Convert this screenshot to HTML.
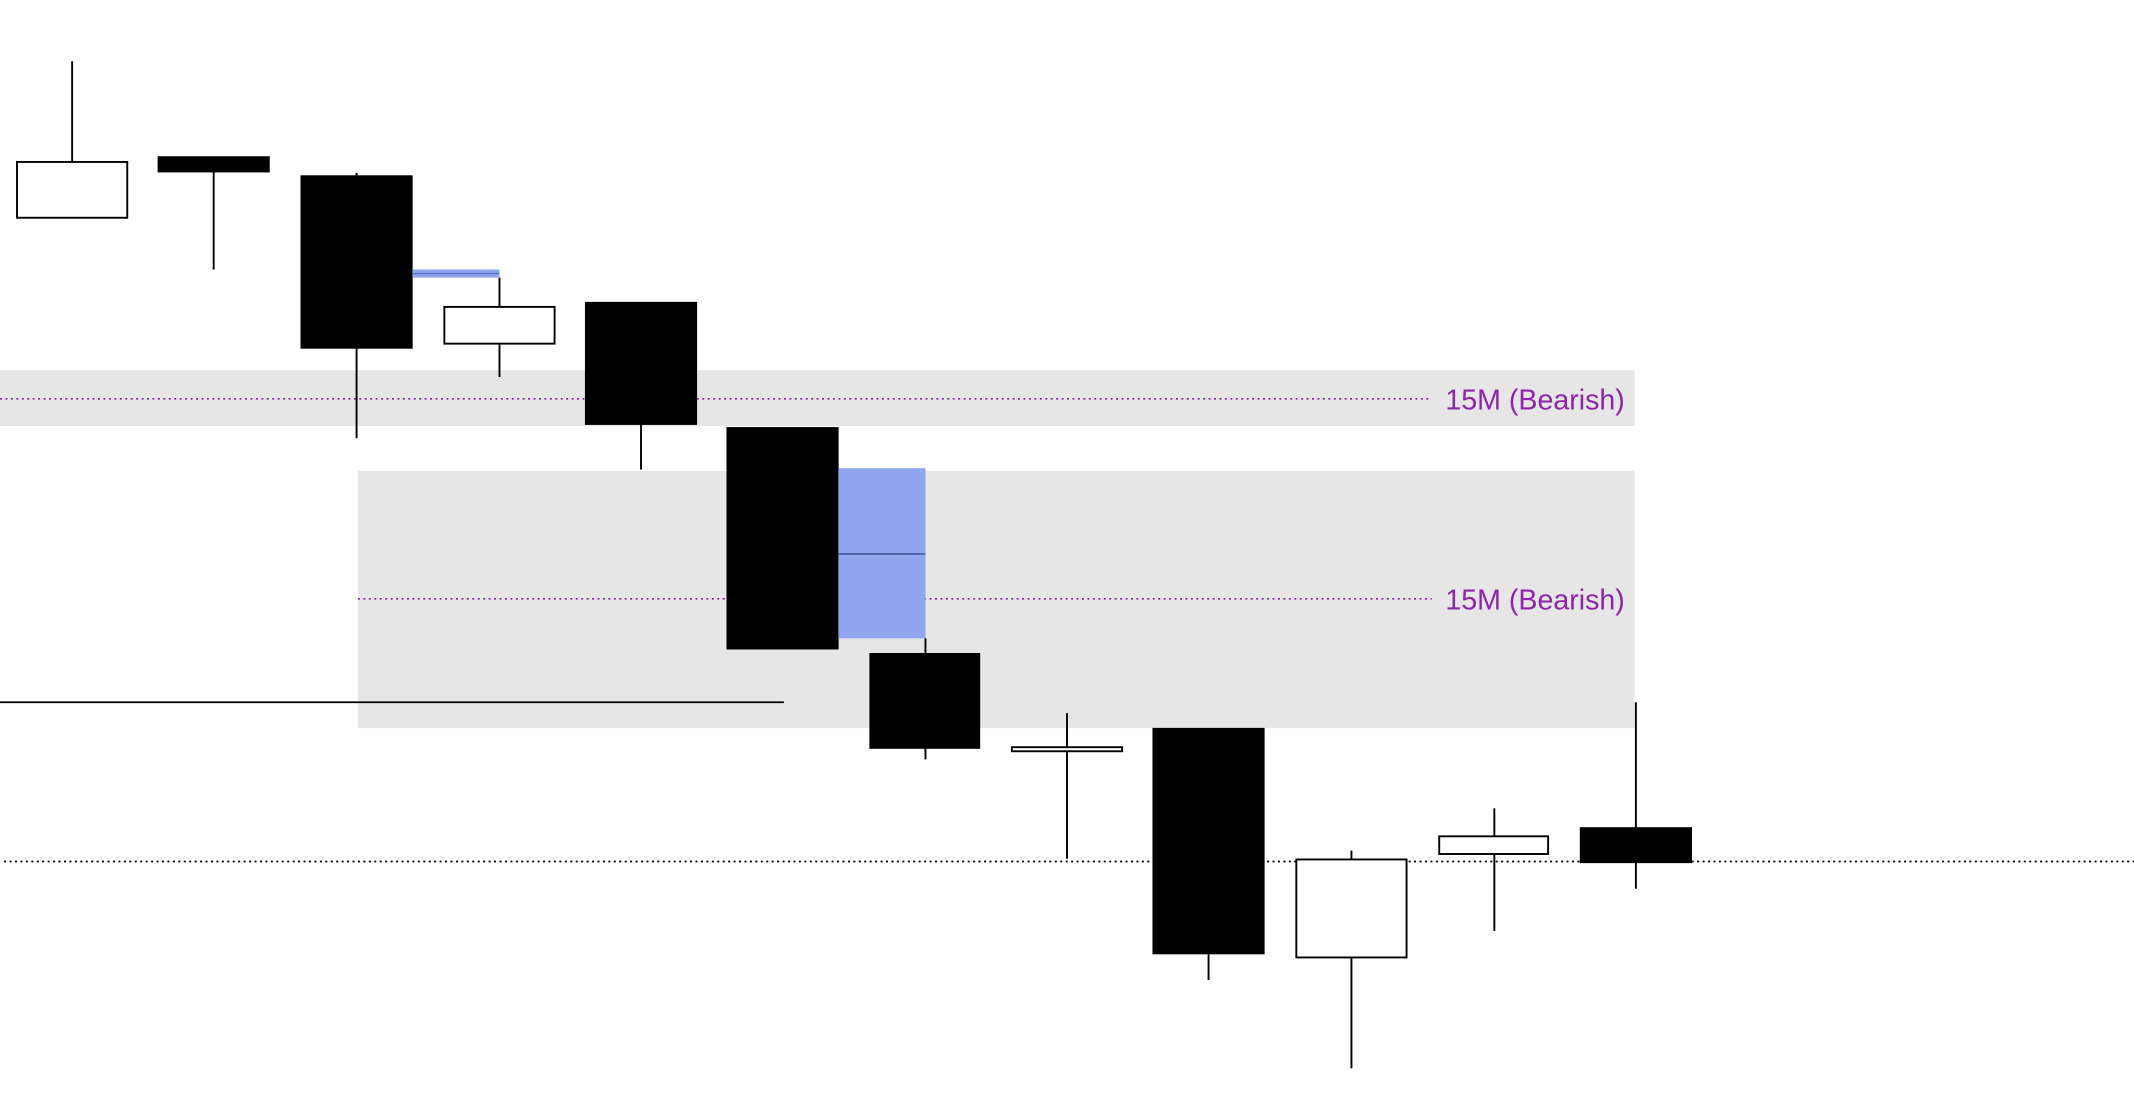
<!DOCTYPE html>
<html><head><meta charset="utf-8"><style>
html,body{margin:0;padding:0;background:#fff;width:2134px;height:1096px;overflow:hidden}
svg{display:block}
</style></head><body>
<svg width="2134" height="1096" viewBox="0 0 1568 805.3" preserveAspectRatio="none" xmlns="http://www.w3.org/2000/svg">
<rect x="0" y="272" width="1201" height="41" fill="#e6e6e6"/>
<rect x="263" y="346" width="938" height="189" fill="#e6e6e6"/>
<line x1="0" y1="293" x2="1052" y2="293" stroke="#8e24aa" stroke-width="1.2" stroke-dasharray="1.5,2.5"/>
<line x1="263" y1="440" x2="1052" y2="440" stroke="#8e24aa" stroke-width="1.2" stroke-dasharray="1.5,2.5"/>
<text x="1062" y="301" font-family="Liberation Sans, sans-serif" font-size="21" fill="#8e24aa">15M (Bearish)</text>
<text x="1062" y="448" font-family="Liberation Sans, sans-serif" font-size="21" fill="#8e24aa">15M (Bearish)</text>
<line x1="0" y1="516" x2="576" y2="516" stroke="#000" stroke-width="1.3"/>
<line x1="3" y1="633" x2="1568" y2="633" stroke="#000" stroke-width="1.3" stroke-dasharray="1.5,2.5"/>
<g stroke="#000" stroke-width="1.4">
<line x1="53" y1="45" x2="53" y2="119"/>
<rect x="12.5" y="119" width="81" height="41" fill="#fff"/>
<line x1="157" y1="126" x2="157" y2="198"/>
<rect x="116.5" y="115.5" width="81" height="10.5" fill="#000"/>
<line x1="262" y1="127" x2="262" y2="322"/>
<rect x="221.5" y="129.5" width="81" height="126" fill="#000"/>
<line x1="367" y1="204" x2="367" y2="277"/>
<rect x="326.5" y="225.5" width="81" height="27" fill="#fff"/>
<line x1="471" y1="312" x2="471" y2="345"/>
<rect x="430.5" y="222.5" width="81" height="89" fill="#000"/>
<rect x="534.5" y="314.5" width="81" height="162" fill="#000"/>
<line x1="680" y1="469" x2="680" y2="558"/>
<rect x="639.5" y="480.5" width="80" height="69" fill="#000"/>
<line x1="784" y1="524" x2="784" y2="631"/>
<rect x="743.5" y="549" width="81" height="3" fill="#fff"/>
<line x1="888" y1="701" x2="888" y2="720"/>
<rect x="847.5" y="535.5" width="81" height="165" fill="#000"/>
<line x1="993" y1="625" x2="993" y2="785"/>
<rect x="952.5" y="631.5" width="81" height="72" fill="#fff"/>
<line x1="1098" y1="594" x2="1098" y2="684"/>
<rect x="1057.5" y="614.5" width="80" height="13" fill="#fff"/>
<line x1="1202" y1="516" x2="1202" y2="653"/>
<rect x="1161.5" y="608.5" width="81" height="25" fill="#000"/>
</g>
<rect x="303" y="198" width="64" height="6" fill="#8fa5ee"/>
<line x1="303" y1="201" x2="367" y2="201" stroke="#5a6fd0" stroke-width="1"/>
<rect x="616" y="344" width="64" height="125" fill="#8fa5ee"/>
<line x1="616" y1="407" x2="680" y2="407" stroke="#3a4a90" stroke-width="1"/>
</svg>
</body></html>
